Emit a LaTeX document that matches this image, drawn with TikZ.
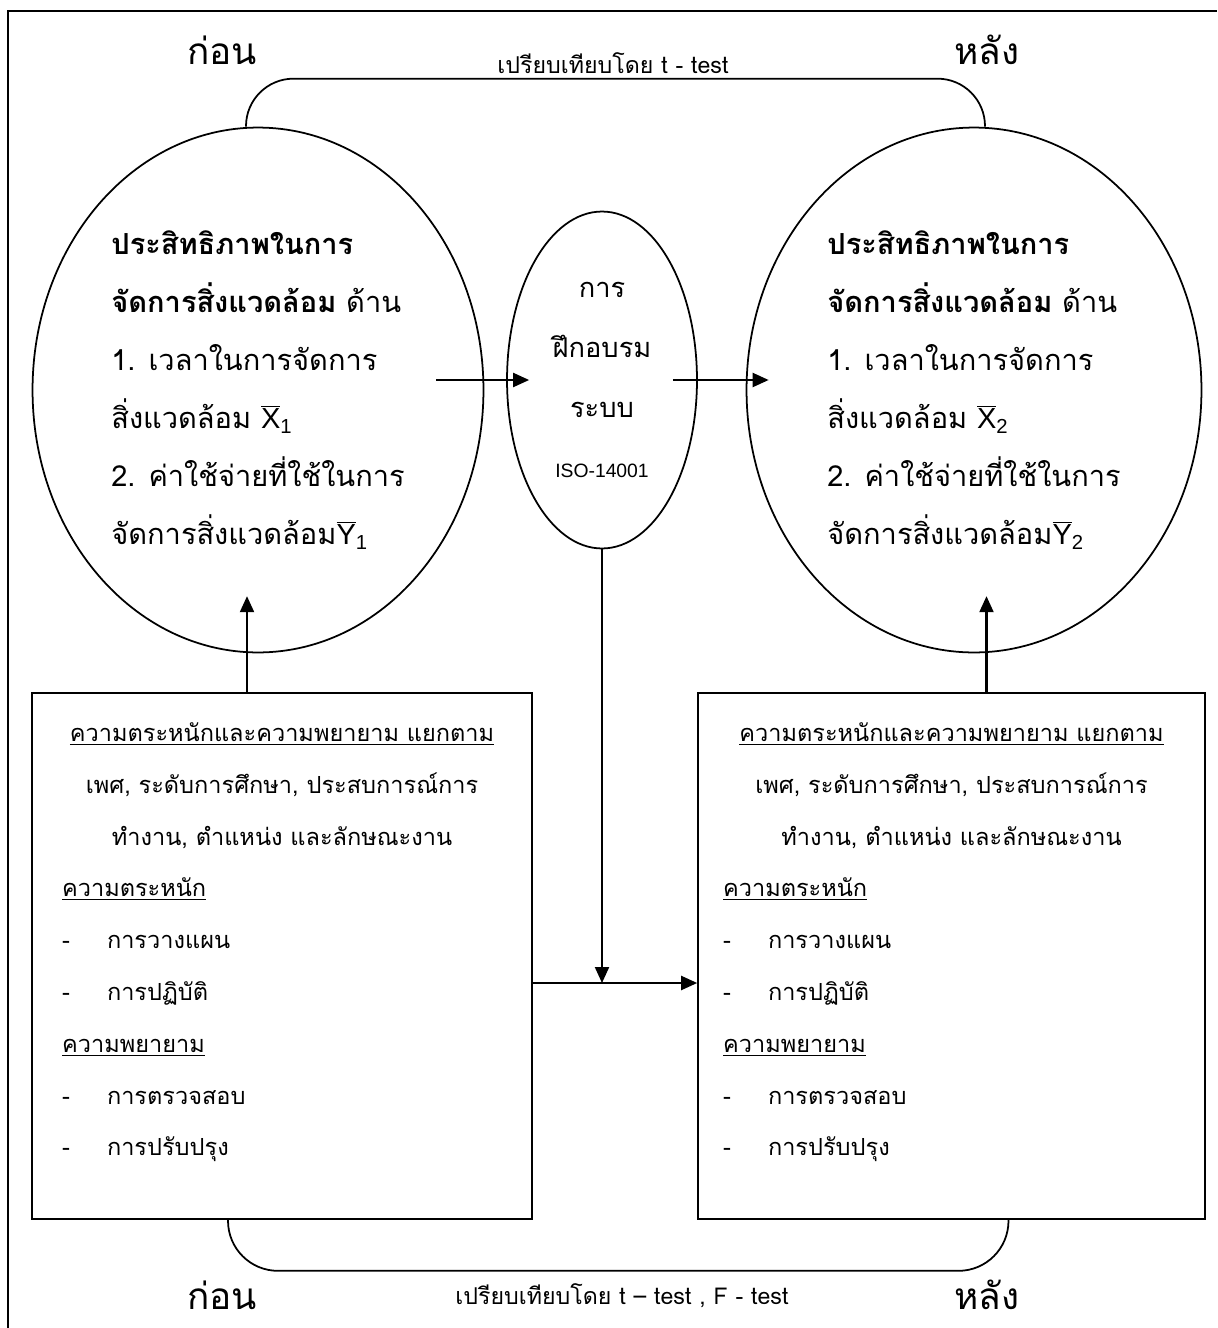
\documentclass[tikz,border=0pt]{standalone}
\usepackage{fontspec}
\setmainfont[Script=Thai]{Loma}
\newfontfamily\latin{Liberation Sans}
\usetikzlibrary{positioning,arrows.meta,shapes.geometric}
\setlength{\parindent}{0pt}
\tikzset{
    every node/.style={
        font=\fontsize{16.5}{33}\selectfont
    },
    oval/.style={
        shape=ellipse,
        draw,
        line width=1pt,
        inner sep=0pt,
        align=left
    },
    block/.style={
        shape=rectangle,
        draw,
        line width=1pt
    },
    arr/.style={
        -{Triangle[length=0.32cm,width=0.28cm]},
        line width=1.2pt
    }
}
\newcommand{\mbar}[2]{{\latin$\overline{\mbox{#1}}$\textsubscript{#2}}}

\begin{document}
\begin{tikzpicture}[
            x=0.02cm, y=-0.02cm,
            title/.style={font=\fontsize{21}{21}\selectfont, inner sep=0pt},
            cmp/.style={font=\fontsize{13.2}{13}\selectfont, inner sep=0pt},
            boxtext/.style={font=\fontsize{13.4}{29.5}\selectfont, inner sep=0pt, align=left}
            ]
            \useasboundingbox (0,0) rectangle (1217,1328);
            \draw [line width=1.2pt] (8,1328) -- (8,11) -- (1217,11);

            \node (bef) at (258,390) [oval, minimum width=9.02cm, minimum height=10.5cm] {\textbf{ประสิทธิภาพในการ}\\\textbf{จัดการสิ่งแวดล้อม} ด้าน\\1. เวลาในการจัดการ\\สิ่งแวดล้อม \mbar{X}{1}\\2. ค่าใช้จ่ายที่ใช้ในการ\\จัดการสิ่งแวดล้อม\mbar{Y}{1}};
            \node (trn) at (602,380) [oval, align=center, minimum width=3.8cm, minimum height=6.74cm, font=\fontsize{15.5}{34}\selectfont] {การ\\ฝึกอบรม\\ระบบ\\{\latin\fontsize{11}{28}\selectfont ISO-14001}};
            \node (aft) at (974,390) [oval, minimum width=9.1cm, minimum height=10.5cm] {\textbf{ประสิทธิภาพในการ}\\\textbf{จัดการสิ่งแวดล้อม} ด้าน\\1. เวลาในการจัดการ\\สิ่งแวดล้อม \mbar{X}{2}\\2. ค่าใช้จ่ายที่ใช้ในการ\\จัดการสิ่งแวดล้อม\mbar{Y}{2}};

            \node (befb) at (282,956) [block, minimum width=10cm, minimum height=10.52cm] {};
            \node (aftb) at (951.5,956) [block, minimum width=10.14cm, minimum height=10.52cm] {};

            \node (befl) [boxtext, text width=8.8cm, below=0.6cm of befb.north] {\hfill\underline{ความตระหนักและความพยายาม แยกตาม}\hfill\null\\
                \hfill เพศ, ระดับการศึกษา, ประสบการณ์การ\hfill\null\\
                \hfill ทำงาน, ตำแหน่ง และลักษณะงาน\hfill\null\\
                \underline{ความตระหนัก}\\
                \makebox[0.9cm][l]{-}การวางแผน\\
                \makebox[0.9cm][l]{-}การปฏิบัติ\\
                \underline{ความพยายาม}\\
                \makebox[0.9cm][l]{-}การตรวจสอบ\\
                \makebox[0.9cm][l]{-}การปรับปรุง};
            \node (aftl) [boxtext, text width=9.14cm, below=0.6cm of aftb.north] {\hfill\underline{ความตระหนักและความพยายาม แยกตาม}\hfill\null\\
                \hfill เพศ, ระดับการศึกษา, ประสบการณ์การ\hfill\null\\
                \hfill ทำงาน, ตำแหน่ง และลักษณะงาน\hfill\null\\
                \underline{ความตระหนัก}\\
                \makebox[0.9cm][l]{-}การวางแผน\\
                \makebox[0.9cm][l]{-}การปฏิบัติ\\
                \underline{ความพยายาม}\\
                \makebox[0.9cm][l]{-}การตรวจสอบ\\
                \makebox[0.9cm][l]{-}การปรับปรุง};

            \node (tb) at (222,50) [title] {ก่อน};
            \node (ta) at (987,50) [title] {หลัง};
            \node (tc) at (613,63) [cmp] {เปรียบเทียบโดย t - test};
            \node (bb) at (222,1295) [title] {ก่อน};
            \node (ba) at (987,1295) [title] {หลัง};
            \node (bc) at (622,1296) [cmp] {เปรียบเทียบโดย t – test , F - test};

            \coordinate (join) at ([yshift=-0.54cm]befb.east);

            \draw [line width=1pt, rounded corners=0.95cm] ([xshift=-0.24cm]bef.north) -- ++(0,-48) -| ([xshift=0.22cm]aft.north);
            \draw [line width=1pt, rounded corners=1cm] ([xshift=-1.08cm]befb.south) -- ++(0,51) -| ([xshift=1.14cm]aftb.south);
            \draw [arr] ([xshift=-0.96cm]bef.east |- trn.center) -- ([xshift=0.46cm]trn.west);
            \draw [arr] ([xshift=-0.5cm]trn.east) -- ([xshift=0.46cm]aft.west |- trn.center);
            \draw [arr] ([xshift=-0.7cm]befb.north) -- ++(0,-96);
            \draw [arr] ([xshift=0.7cm]aftb.north) -- ++(0,-96);
            \draw [arr] (befb.east |- join) -- (aftb.west |- join);
            \draw [arr] (trn.south) -- (trn.south |- join);
        \end{tikzpicture}
\end{document}
